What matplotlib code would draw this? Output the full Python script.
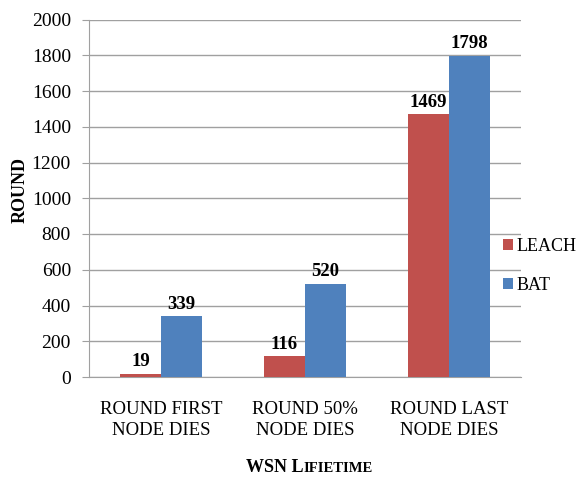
import matplotlib
matplotlib.use("Agg")
import matplotlib.pyplot as plt
import numpy as np

categories = ["ROUND FIRST\nNODE DIES", "ROUND 50%\nNODE DIES", "ROUND LAST\nNODE DIES"]
leach = [19, 116, 1469]
bat = [339, 520, 1798]
yticks = [0, 200, 400, 600, 800, 1000, 1200, 1400, 1600, 1800, 2000]

plt.rcParams['font.family'] = ['Liberation Serif', 'DejaVu Serif']

fig = plt.figure(figsize=(5.79, 4.79), dpi=100)
ax = fig.add_axes([89/579, 1-377/479, 432/579, (377-19.5)/479])

x = np.arange(len(categories))
w = 0.285
b1 = ax.bar(x - w/2, leach, w, color='#C0504D', label='LEACH', zorder=3)
b2 = ax.bar(x + w/2, bat, w, color='#4F81BD', label='BAT', zorder=3)

for bars, vals in ((b1, leach), (b2, bat)):
    for r, v in zip(bars, vals):
        ax.text(r.get_x() + r.get_width()/2, v + 20, str(v), ha='center', va='bottom',
                fontsize=13.5, fontweight='bold', zorder=4)

ax.set_xlim(-0.5, 2.5)
ax.set_ylim(0, 2000)
ax.set_yticks(yticks)
ax.set_yticklabels([str(t) for t in yticks], fontsize=14)
ax.set_xticks(x)
ax.set_xticklabels(categories, fontsize=13.5, linespacing=1.3)
ax.tick_params(axis='x', length=0, pad=17)
ax.tick_params(axis='y', length=5, color='#A0A0A0', pad=8)
ax.grid(axis='y', color='#A0A0A0', linewidth=1, zorder=0)
for s in ['top', 'right']:
    ax.spines[s].set_visible(False)
ax.spines['left'].set_color('#A0A0A0')
ax.spines['bottom'].set_color('#A0A0A0')

fig.text(20/579, 1-190/479, 'ROUND', fontsize=13, fontweight='bold', rotation=90,
         ha='center', va='center')

leg = fig.legend(handles=[b1, b2], loc='center left', bbox_to_anchor=(503/579, 1-266/479),
                 frameon=False, fontsize=13, handlelength=0.55, handleheight=0.55,
                 handletextpad=0.2, labelspacing=1.2, borderaxespad=0, borderpad=0)

split = 303.5/579
fig.text(split, 1-472/479, 'WSN L', fontsize=13, fontweight='bold', ha='right', va='baseline')
fig.text(split, 1-472/479, 'IFIETIME', fontsize=10.5, fontweight='bold', ha='left', va='baseline')

fig.savefig('out.png', dpi=100)
